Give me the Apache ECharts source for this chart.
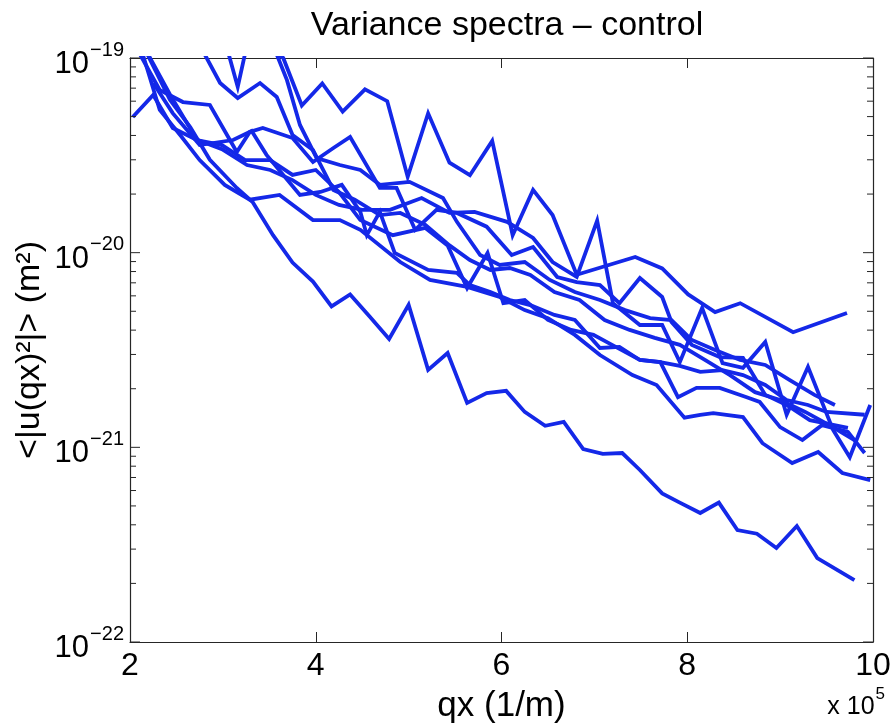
<!DOCTYPE html>
<html><head><meta charset="utf-8">
<script src="https://cdn.jsdelivr.net/npm/echarts@6/dist/echarts.min.js"></script>
<style>html,body{margin:0;padding:0;background:#fff}#c{width:893px;height:723px}#err{position:absolute;left:150px;top:120px;font:13px monospace;color:red;white-space:pre-wrap;width:700px}</style>
</head><body><div id="c"></div><div id="err"></div>
<script>
function showErr(t){ document.getElementById('err').textContent += t + '\n'; }
window.onerror = function(m, s, l, c, e){ showErr('ERR: ' + m + ' @' + l + ':' + c); };
const titleText = 'Variance spectra \u2013 control';
const xName = 'qx (1/m)';
const yName = '<|u(qx)\u00b2|> (m\u00b2)';
const xTicks = [2, 4, 6, 8, 10];
const yDecades = [1e-22, 1e-21, 1e-20, 1e-19];
const yMinorTicks = [2e-22,3e-22,4e-22,5e-22,6e-22,7e-22,8e-22,9e-22,
  2e-21,3e-21,4e-21,5e-21,6e-21,7e-21,8e-21,9e-21,
  2e-20,3e-20,4e-20,5e-20,6e-20,7e-20,8e-20,9e-20];

const lineA = [[3.42,1.24e-19],[3.65,1.0e-19],[3.85,5.7e-20],[4.07,7.4e-20],[4.29,5.3e-20],[4.53,6.9e-20],[4.77,6.0e-20],[4.99,2.45e-20],[5.21,5.2e-20],[5.44,2.9e-20],[5.66,2.5e-20],[5.90,3.75e-20],[6.12,1.23e-20],[6.34,2.1e-20],[6.55,1.56e-20],[6.81,7.7e-21],[7.44,9.5e-21],[7.73,8.3e-21],[8.01,6.1e-21],[8.30,4.95e-21],[8.57,5.5e-21],[9.14,3.9e-21],[9.72,4.9e-21]];
const lineB = [[2.11,1.24e-19],[2.43,6.5e-20],[2.72,3.8e-20],[2.99,3.4e-20],[3.26,2.82e-20],[3.51,2.66e-20],[3.75,2.36e-20],[4.00,1.98e-20],[4.25,1.76e-20],[4.50,1.66e-20],[4.80,1.66e-20],[5.14,1.91e-20],[5.44,1.60e-20],[5.71,1.62e-20],[6.06,1.44e-20],[6.34,1.19e-20],[6.55,8.95e-21],[6.81,7.5e-21],[7.03,1.46e-20],[7.20,5.5e-21],[7.49,4.25e-21],[7.73,4.25e-21],[7.92,2.74e-21],[8.16,5.2e-21],[8.38,2.71e-21],[8.60,2.56e-21],[8.84,3.48e-21],[9.07,1.47e-21],[9.30,2.59e-21],[9.57,1.23e-21],[9.75,8.9e-22],[9.97,1.65e-21]];
const lineC = [[2.03,4.98e-20],[2.25,6.46e-20],[2.46,4.37e-20],[2.72,3.79e-20],[2.99,3.57e-20],[3.24,2.99e-20],[3.51,2.99e-20],[3.75,2.51e-20],[4.00,2.66e-20],[4.25,2.05e-20],[4.48,1.47e-20],[4.83,1.23e-20],[5.18,1.34e-20],[5.42,1.09e-20],[5.63,6.58e-21],[5.85,9.96e-21],[6.02,5.5e-21],[6.25,5.71e-21],[6.50,4.51e-21],[6.75,4.01e-21],[6.99,3.78e-21],[7.25,3.24e-21],[7.49,2.81e-21],[7.71,2.74e-21],[7.92,2.62e-21],[8.14,2.44e-21],[8.38,2.49e-21],[8.60,2.35e-21],[8.84,2.09e-21],[9.07,1.75e-21],[9.30,1.65e-21],[9.50,1.52e-21],[9.91,1.47e-21]];
const lineD = [[2.05,1.17e-19],[2.32,6.85e-20],[2.57,5.94e-20],[2.86,5.74e-20],[3.15,3.29e-20],[3.29,4.17e-20],[3.43,4.37e-20],[3.75,3.88e-20],[3.97,2.92e-20],[4.19,3.45e-20],[4.37,3.93e-20],[4.69,2.15e-20],[4.87,2.15e-20],[5.07,1.31e-20],[5.30,1.66e-20],[5.52,1.60e-20],[5.84,1.36e-20],[6.11,9.73e-21],[6.34,1.07e-20],[6.60,7.5e-21],[6.81,7.06e-21],[7.06,6.82e-21],[7.27,5.5e-21],[7.49,7.41e-21],[7.73,5.92e-21],[7.83,4.41e-21],[8.05,3.36e-21],[8.35,2.91e-21],[8.60,2.88e-21],[8.84,1.86e-21],[9.07,1.65e-21],[9.32,1.38e-21],[9.73,1.26e-21]];
const lineE = [[2.25,7.44e-20],[2.46,5.21e-20],[2.75,3.57e-20],[3.11,3.79e-20],[3.31,4.22e-20],[3.47,3.18e-20],[3.83,1.98e-20],[4.05,2.05e-20],[4.28,2.23e-20],[4.48,1.62e-20],[4.55,1.23e-20],[4.69,1.62e-20],[4.85,9.96e-21],[5.21,8.15e-21],[5.52,7.87e-21],[5.66,6.82e-21],[5.88,6.28e-21],[6.09,5.71e-21],[6.31,5.38e-21],[6.57,4.79e-21],[6.79,4.51e-21],[7.06,3.24e-21],[7.27,3.28e-21],[7.49,2.81e-21],[7.71,2.74e-21],[7.90,1.81e-21],[8.10,2.02e-21],[8.35,2.02e-21],[8.64,1.81e-21],[8.78,1.71e-21],[9.00,1.27e-21],[9.24,1.09e-21],[9.45,1.30e-21],[9.73,1.20e-21],[9.91,9.35e-22]];
const lineF = [[2.09,1.24e-19],[2.32,5.41e-20],[2.54,4.02e-20],[2.75,2.99e-20],[3.02,2.23e-20],[3.29,1.87e-20],[3.61,1.98e-20],[3.97,1.47e-20],[4.26,1.47e-20],[4.48,1.31e-20],[4.91,8.95e-21],[5.23,7.24e-21],[5.63,6.67e-21],[5.98,5.92e-21],[6.25,5.07e-21],[6.50,4.61e-21],[6.79,3.78e-21],[7.06,2.98e-21],[7.41,2.35e-21],[7.67,2.09e-21],[7.97,1.42e-21],[8.14,1.47e-21],[8.28,1.50e-21],[8.60,1.43e-21],[8.81,1.05e-21],[9.13,8.3e-22],[9.41,9.46e-22],[9.67,7.38e-22],[9.97,6.79e-22]];
const lineG = [[3.02,1.24e-19],[3.16,7.1e-20],[3.26,1.17e-19],[3.50,1.3e-19],[3.69,7.7e-20],[3.83,4.53e-20],[4.01,3.06e-20],[4.26,2.82e-20],[4.48,2.66e-20],[4.69,2.23e-20],[5.01,2.31e-20],[5.37,1.91e-20],[5.52,1.44e-20],[5.77,9.73e-21],[5.98,8.65e-21],[6.25,8.95e-21],[6.52,7.24e-21],[6.79,6.28e-21],[7.06,5.71e-21],[7.33,5.07e-21],[7.60,4.61e-21],[7.83,4.51e-21],[8.05,3.56e-21],[8.30,3.16e-21],[8.57,2.81e-21],[8.84,2.65e-21],[9.10,2.22e-21],[9.37,1.86e-21],[9.59,1.65e-21]];
const lineH = [[2.72,1.24e-19],[2.97,7.44e-20],[3.16,6.23e-20],[3.40,7.44e-20],[3.58,6.31e-20],[3.75,4.02e-20],[3.97,3.37e-20],[4.19,2.10e-20],[4.42,1.87e-20],[4.69,1.56e-20],[4.91,1.60e-20],[5.18,1.39e-20],[5.44,1.09e-20],[5.66,9.16e-21],[5.88,8.15e-21],[6.09,8.34e-21],[6.31,7.68e-21],[6.57,6.28e-21],[6.84,5.71e-21],[7.11,4.51e-21],[7.38,4.01e-21],[7.65,3.65e-21],[7.92,3.36e-21],[8.19,2.81e-21],[8.46,2.35e-21],[8.73,1.92e-21],[9.00,1.75e-21],[9.27,1.52e-21],[9.53,1.30e-21],[9.80,1.09e-21]];
const lineL = [[2.11,1.24e-19],[2.43,6.1e-20],[2.65,4.4e-20],[2.86,3.0e-20],[3.15,2.15e-20],[3.32,1.82e-20],[3.54,1.23e-20],[3.75,8.9e-21],[3.97,7.1e-21],[4.17,5.3e-21],[4.37,6.1e-21],[4.58,4.7e-21],[4.79,3.6e-21],[5.00,5.4e-21],[5.21,2.5e-21],[5.42,3.05e-21],[5.63,1.69e-21],[5.84,1.9e-21],[6.05,1.95e-21],[6.25,1.52e-21],[6.47,1.29e-21],[6.67,1.35e-21],[6.88,9.8e-22],[7.09,9.25e-22],[7.30,9.35e-22],[7.49,7.65e-22],[7.73,5.8e-22],[7.92,5.2e-22],[8.14,4.6e-22],[8.34,5.2e-22],[8.54,3.76e-22],[8.75,3.6e-22],[8.96,3.04e-22],[9.18,3.94e-22],[9.40,2.7e-22],[9.80,2.08e-22]];

const allLines = [lineA, lineB, lineC, lineD, lineE, lineF, lineG, lineH, lineL];

const FONT = 'Liberation Sans';
const BLUE = '#1428e8';
const AX = '#262626';

try {
const chart = echarts.init(document.getElementById('c'), null, {renderer: 'canvas'});

function expOf(v) { return Math.round(Math.log(v) / Math.LN10); }

const lineSeries = allLines.map(d => ({
  type: 'line', data: d, xAxisIndex: 0, yAxisIndex: 0,
  showSymbol: false, symbol: 'none', clip: true,
  lineStyle: {color: BLUE, width: 3.8, join: 'miter'},
  z: 3, silent: true
}));

// y-axis ticks (major + minor, both sides) and decade labels, placed through the axis scale
const tickItems = yDecades.map(v => [xTicks[0], v, 1]).concat(yMinorTicks.map(v => [xTicks[0], v, 0]));
const ySideSeries = {
  type: 'custom', xAxisIndex: 0, yAxisIndex: 0, clip: false, silent: true, z: 10,
  data: tickItems,
  encode: {x: 0, y: 1},
  renderItem: function (params, api) {
    const v = api.value(1);
    const major = api.value(2) === 1;
    const pL = api.coord([xTicks[0], v]);
    const pR = api.coord([xTicks[xTicks.length - 1], v]);
    const len = major ? 10 : 6;
    const kids = [
      {type: 'line', shape: {x1: pL[0], y1: pL[1], x2: pL[0] + len, y2: pL[1]}, style: {stroke: AX, lineWidth: 1}},
      {type: 'line', shape: {x1: pR[0] - len, y1: pR[1], x2: pR[0], y2: pR[1]}, style: {stroke: AX, lineWidth: 1}}
    ];
    if (major) {
      kids.push({type: 'text', x: pL[0] - 6, y: pL[1] + 2, style: {
        text: '{b|10}{s|\u2212' + Math.abs(expOf(v)) + '}',
        align: 'right', verticalAlign: 'middle',
        rich: {
          b: {fontFamily: FONT, fontSize: 31, fill: '#000', verticalAlign: 'bottom', lineHeight: 40},
          s: {fontFamily: FONT, fontSize: 20, fill: '#000', verticalAlign: 'top', lineHeight: 40, padding: [0, 0, 16, 1]}
        }
      }});
    }
    return {type: 'group', children: kids};
  }
};

const baseX = {
  type: 'value', min: xTicks[0], max: xTicks[xTicks.length - 1], interval: 2,
  axisLine: {show: true, onZero: false, lineStyle: {color: AX, width: 1.2}},
  axisTick: {show: true, inside: true, length: 10, lineStyle: {color: AX, width: 1}},
  splitLine: {show: false}
};
const baseY = {
  type: 'log', logBase: 10, min: yDecades[0], max: yDecades[yDecades.length - 1],
  axisLine: {show: true, onZero: false, lineStyle: {color: AX, width: 1.2}},
  axisTick: {show: false}, axisLabel: {show: false},
  splitLine: {show: false}
};

chart.setOption({
  animation: false,
  backgroundColor: '#ffffff',
  title: {
    text: titleText, left: 502, top: 4, textAlign: 'center',
    textStyle: {fontFamily: FONT, fontSize: 34, fontWeight: 'normal', color: '#000'}
  },
  grid: {left: 130, right: 20, top: 58, bottom: 81, containLabel: false, outerBoundsMode: 'none'},
  xAxis: [
    Object.assign({}, baseX, {
      position: 'bottom',
      name: xName, nameLocation: 'middle', nameGap: 47,
      nameTextStyle: {fontFamily: FONT, fontSize: 35, color: '#000'},
      axisLabel: {show: true, margin: 8, fontFamily: FONT, fontSize: 32, color: '#000'}
    }),
    Object.assign({}, baseX, {position: 'top', axisLabel: {show: false}})
  ],
  yAxis: [
    Object.assign({}, baseY, {position: 'left'}),
    Object.assign({}, baseY, {position: 'right'})
  ],
  graphic: [{
    type: 'text', x: 30, y: 350, rotation: Math.PI / 2,
    style: {text: yName, fontFamily: FONT, fontSize: 34, fill: '#000', align: 'center', verticalAlign: 'middle'}
  }, {
    type: 'text', right: 8, bottom: 3,
    style: {
      text: '{b|x 10}{s|5}',
      rich: {
        b: {fontFamily: FONT, fontSize: 25, fill: '#000', verticalAlign: 'bottom', lineHeight: 34},
        s: {fontFamily: FONT, fontSize: 17, fill: '#000', verticalAlign: 'top', lineHeight: 34, padding: [0, 0, 14, 1]}
      }
    }
  }],
  series: lineSeries.concat([ySideSeries])
});
} catch (e) {
  showErr('CATCH: ' + e.message + '\n' + (e.stack || '').slice(0, 600));
}
</script>
</body></html>
